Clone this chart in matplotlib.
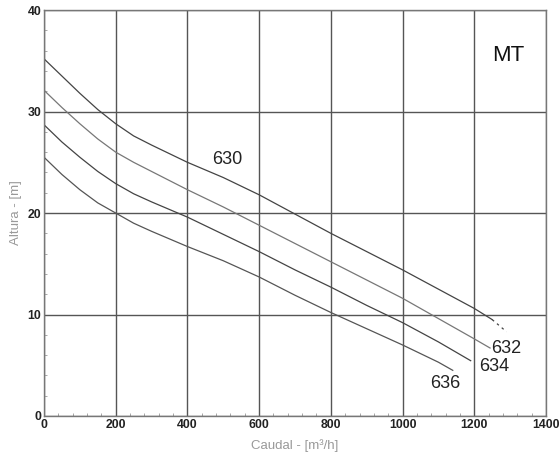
import numpy as np
import matplotlib
matplotlib.use("Agg")
import matplotlib.pyplot as plt
from matplotlib.ticker import MultipleLocator

# pump curves: caudal [m3/h] -> altura [m]
q_630 = [0, 50, 100, 150, 200, 250, 300, 400, 500, 600, 700, 800, 900, 1000, 1100, 1200, 1250]
h_630 = [35.2, 33.5, 31.8, 30.2, 28.8, 27.6, 26.7, 25.0, 23.5, 21.8, 19.9, 18.0, 16.2, 14.4, 12.5, 10.6, 9.5]
q_630_tail = [1250, 1290]
h_630_tail = [9.5, 8.3]

q_632 = [0, 50, 100, 150, 200, 250, 300, 400, 500, 600, 700, 800, 900, 1000, 1100, 1200, 1244]
h_632 = [32.1, 30.4, 28.8, 27.3, 26.0, 25.0, 24.1, 22.3, 20.6, 18.8, 17.0, 15.2, 13.4, 11.6, 9.6, 7.6, 6.7]

q_634 = [0, 50, 100, 150, 200, 250, 300, 400, 500, 600, 700, 800, 900, 1000, 1100, 1190]
h_634 = [28.7, 27.0, 25.5, 24.1, 22.9, 21.9, 21.1, 19.6, 17.9, 16.2, 14.4, 12.7, 10.9, 9.2, 7.3, 5.45]

q_636 = [0, 50, 100, 150, 200, 250, 300, 400, 500, 600, 700, 800, 900, 1000, 1100, 1140]
h_636 = [25.5, 23.8, 22.3, 21.0, 20.0, 19.0, 18.2, 16.7, 15.3, 13.7, 11.9, 10.2, 8.6, 7.0, 5.3, 4.5]

labels = ["630", "632", "634", "636"]
label_pos = [(510, 25.3), (1290, 6.7), (1255, 4.9), (1120, 3.2)]

plt.rcParams["font.family"] = ["Liberation Sans", "DejaVu Sans"]

fig = plt.figure(figsize=(5.59, 4.53), dpi=100)
ax = fig.add_axes([0.0787, 0.0817, 0.898, 0.896])

ax.plot(q_630, h_630, color="#444444", lw=0.9)
ax.plot(q_630_tail, h_630_tail, color="#444444", lw=0.9, ls=(0, (2, 3)))
ax.plot(q_632, h_632, color="#777777", lw=0.9)
ax.plot(q_634, h_634, color="#444444", lw=0.9)
ax.plot(q_636, h_636, color="#555555", lw=0.9)

for txt, (x, y) in zip(labels, label_pos):
    ax.text(x, y, txt, fontsize=13, color="#222222", ha="center", va="center")
ax.text(1295, 35.5, "MT", fontsize=16, color="#111111", ha="center", va="center")

ax.set_xlim(0, 1400)
ax.set_ylim(0, 40)
ax.xaxis.set_major_locator(MultipleLocator(200))
ax.yaxis.set_major_locator(MultipleLocator(10))
ax.xaxis.set_minor_locator(MultipleLocator(40))
ax.yaxis.set_minor_locator(MultipleLocator(2))
ax.grid(True, which="major", color="#555555", lw=1.0)
ax.set_axisbelow(True)
for s in ax.spines.values():
    s.set_color("#777777")
    s.set_linewidth(1.0)

ax.tick_params(which="both", direction="in", colors="#999999", labelcolor="#222222")
ax.tick_params(which="major", length=0, pad=2, labelsize=8.8)
ax.tick_params(which="minor", length=2)
for lab in ax.get_xticklabels() + ax.get_yticklabels():
    lab.set_fontweight("bold")

ax.set_xlabel("Caudal - [m³/h]", fontsize=9.5, color="#999999", labelpad=6)
ax.set_ylabel("Altura - [m]", fontsize=9.5, color="#999999", labelpad=4)

fig.savefig("out.png", dpi=100)
